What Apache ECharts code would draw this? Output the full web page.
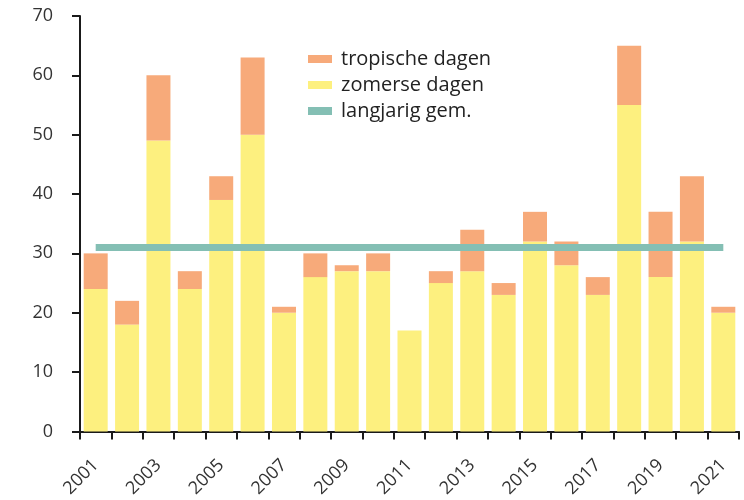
<!DOCTYPE html>
<html>
<head>
<meta charset="utf-8">
<script src="https://cdn.jsdelivr.net/npm/echarts@6/dist/echarts.min.js"></script>
<style>
html,body{margin:0;padding:0;background:#fff;}
#chart{width:744px;height:500px;}
</style>
</head>
<body>
<div id="chart"></div>
<script>
const years = ['2001','2002','2003','2004','2005','2006','2007','2008','2009','2010','2011','2012','2013','2014','2015','2016','2017','2018','2019','2020','2021'];
const zomerseDagen = [24,18,49,24,39,50,20,26,27,27,17,25,27,23,32,28,23,55,26,32,20];
const tropischeDagen = [6,4,11,3,4,13,1,4,1,3,0,2,7,2,5,4,3,10,11,11,1];
const langjarigGem = [31,31,31,31,31,31,31,31,31,31,31,31,31,31,31,31,31,31,31,31,31];
const yTicks = {min:0, max:70, interval:10};

const FONT = '"Open Sans"';
const chart = echarts.init(document.getElementById('chart'), null, {renderer:'canvas'});
chart.setOption({
  animation:false,
  backgroundColor:'#ffffff',
  grid:{left:80, right:5, top:16, bottom:68, containLabel:false},
  legend:{
    orient:'vertical', left:303, top:44,
    icon:'rect', itemWidth:24, itemHeight:8, itemGap:6,
    data:['tropische dagen','zomerse dagen','langjarig gem.'],
    textStyle:{fontFamily:FONT, fontSize:20, color:'#222', lineHeight:19, padding:[0,0,0,4]}
  },
  xAxis:{
    type:'category', data:years, boundaryGap:true,
    axisLine:{lineStyle:{color:'#1a1a1a', width:2}},
    axisTick:{show:true, interval:0, length:8, inside:false, lineStyle:{color:'#1a1a1a', width:2}},
    axisLabel:{interval:1, rotate:45, margin:31, fontFamily:FONT, fontSize:18, color:'#333'}
  },
  yAxis:{
    type:'value', min:yTicks.min, max:yTicks.max, interval:yTicks.interval,
    splitLine:{show:false},
    axisLine:{show:true, lineStyle:{color:'#1a1a1a', width:2}},
    axisTick:{show:true, length:8, lineStyle:{color:'#1a1a1a', width:2}},
    axisLabel:{margin:27, fontFamily:FONT, fontSize:18, color:'#333'}
  },
  series:[
    {name:'zomerse dagen', type:'bar', stack:'d', data:zomerseDagen, barWidth:24,
     itemStyle:{color:'#fdf07f'}},
    {name:'tropische dagen', type:'bar', stack:'d', data:tropischeDagen, barWidth:24,
     itemStyle:{color:'#f7aa7a'}},
    {name:'langjarig gem.', type:'line', data:langjarigGem, symbol:'none', z:5,
     lineStyle:{color:'#84bfb4', width:7, cap:'butt'}, itemStyle:{color:'#84bfb4'}}
  ]
});
</script>
</body>
</html>
